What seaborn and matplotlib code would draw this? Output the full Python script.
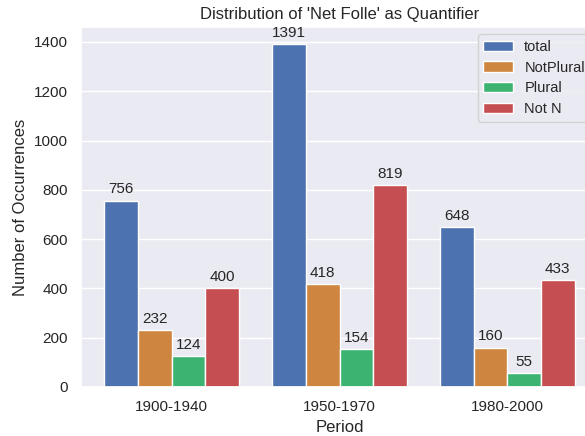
import pandas as pd
import matplotlib
matplotlib.use("Agg")
import matplotlib.pyplot as plt
import seaborn as sns

# data
periods = ["1900-1940", "1950-1970", "1980-2000"]
total = [756, 1391, 648]
not_plural = [232, 418, 160]
plural = [124, 154, 55]
not_n = [400, 819, 433]

series = ["total", "NotPlural", "Plural", "Not N"]
colors = ["#4C72B0", "#CD853F", "#3CB371", "#C44E52"]

df = pd.DataFrame({
    "Period": periods * 4,
    "Type": [s for s in series for _ in periods],
    "Count": total + not_plural + plural + not_n,
})

sns.set_theme(style="darkgrid")
plt.rcParams["font.family"] = ["Liberation Sans", "DejaVu Sans"]

fig = plt.figure(figsize=(5.85, 4.36), dpi=100)
# axes runs a little past the right edge, like the reference crop
ax = fig.add_axes([81 / 585, 1 - 387 / 436, 517 / 585, 360 / 436])

sns.barplot(data=df, x="Period", y="Count", hue="Type", palette=colors,
            ax=ax, saturation=1, width=0.8)

for c in ax.containers:
    ax.bar_label(c, padding=3, fontsize=11)

ax.set_xlim(-0.54, 2.54)
ax.set_title("Distribution of 'Net Folle' as Quantifier", fontsize=12)
ax.set_xlabel("Period", fontsize=12)
ax.set_ylabel("Number of Occurrences", fontsize=12)
ax.legend(loc="upper right", fontsize=10.5, labelspacing=0.45)

fig.savefig("out.png", dpi=100)
